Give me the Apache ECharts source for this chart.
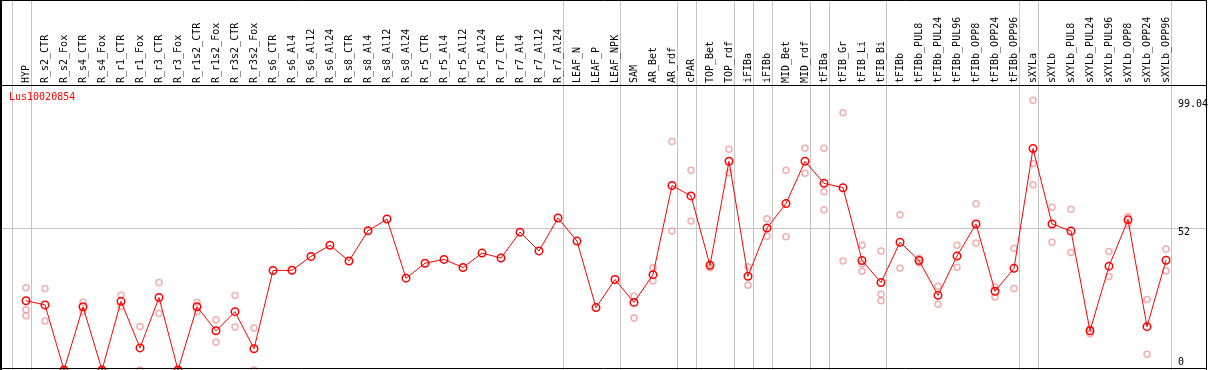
<!DOCTYPE html>
<html><head><meta charset="utf-8">
<script src="https://cdn.jsdelivr.net/npm/echarts@6/dist/echarts.min.js"></script>
<style>html,body{margin:0;padding:0;background:#fff;overflow:hidden}#c{width:1209px;height:370px}</style>
</head><body><div id="c"></div>
<script>
const categories = ['HYP','R_s2_CTR','R_s2_Fox','R_s4_CTR','R_s4_Fox','R_r1_CTR','R_r1_Fox','R_r3_CTR','R_r3_Fox',
 'R_r1s2_CTR','R_r1s2_Fox','R_r3s2_CTR','R_r3s2_Fox','R_s6_CTR','R_s6_Al4','R_s6_Al12','R_s6_Al24',
 'R_s8_CTR','R_s8_Al4','R_s8_Al12','R_s8_Al24','R_r5_CTR','R_r5_Al4','R_r5_Al12','R_r5_Al24',
 'R_r7_CTR','R_r7_Al4','R_r7_Al12','R_r7_Al24','LEAF_N','LEAF_P','LEAF_NPK','SAM','AR_Bet','AR_rdf',
 'cPAR','TOP_Bet','TOP_rdf','iFIBa','iFIBb','MID_Bet','MID_rdf','tFIBa','tFIB_Gr','tFIB_Li','tFIB_Bi',
 'tFIBb','tFIBb_PUL8','tFIBb_PUL24','tFIBb_PUL96','tFIBb_OPP8','tFIBb_OPP24','tFIBb_OPP96',
 'sXYLa','sXYLb','sXYLb_PUL8','sXYLb_PUL24','sXYLb_PUL96','sXYLb_OPP8','sXYLb_OPP24','sXYLb_OPP96'];

const means = [25.4,23.9,0,23.2,0,25.2,8.1,26.6,0,
 23.2,14.4,21.4,7.8,36.5,36.6,41.7,45.8,
 40.0,51.1,55.4,33.7,39.2,40.6,37.6,42.9,
 41.1,50.6,43.7,55.8,47.3,22.9,33.2,24.8,35.0,67.7,
 63.9,38.4,76.6,34.4,52.1,61.1,76.6,68.5,66.9,40.2,32.1,
 46.9,40.2,27.4,41.8,53.6,28.9,37.3,
 81.3,53.6,51.0,14.4,38.1,55.1,15.9,40.3];

const replicates = [[30.2,22.1,19.9],[29.9,18.0],[0,0],[24.9,21.5],[0,0],[27.4,23.3],[16.0,0],[32.1,20.7],[0,0],
 [24.9,21.5],[18.4,10.2],[27.3,15.8],[15.4,0],[],[],[],[],
 [],[],[],[],[],[],[],[],
 [],[],[],[],[],[],[],[27.1,19.1],[37.5,32.8],[83.9,51.0],
 [73.3,54.7],[37.5,38.9],[81.0,72.4],[37.9,31.1],[55.5,49.1],[73.3,48.9],[81.4,72.2],[81.4,65.4,58.8],[94.4,40.0],[45.8,39.0,36.2],[43.7,27.8,25.4],
 [57.0,37.3],[41.0,39.3],[30.7,24.1],[45.8,37.7],[61.0,46.6],[30.5,26.8],[44.7,29.9],
 [99.04,75.8,68.0],[59.7,46.9],[59.0,43.1],[15.2,13.3],[43.5,34.3],[56.3,53.6],[25.9,5.8],[44.4,36.3]];

// index of the last category of each group (separator drawn right after it)
const groupEnds = [-1,0,28,31,34,35,37,38,39,41,42,45,52,53,60];
const yTickLabels = [99.04,52,0];
const gridValue = 52;
const geneTitle = 'Lus10020854';

const chart = echarts.init(document.getElementById('c'), null, {renderer:'canvas'});
const repData = [];
replicates.forEach((arr,i)=>arr.forEach(v=>repData.push([i,v])));
const mono = 'DejaVu Sans Mono';

chart.setOption({
  animation:false,
  grid:{left:16.5,right:33.5,top:85,bottom:0,containLabel:false},
  xAxis:[{type:'category',data:categories,position:'top',boundaryGap:true,
    axisLine:{show:false},axisTick:{show:false},splitLine:{show:false},
    axisLabel:{rotate:90,interval:0,fontFamily:mono,fontSize:10,color:'#000',margin:2,hideOverlap:false}},
    {type:'value',min:-0.5,max:categories.length-0.5,show:false}],
  yAxis:{type:'value',min:0,max:104.6,show:false},
  series:[
    {type:'scatter',data:repData,symbol:'circle',symbolSize:6,z:3,
     itemStyle:{color:'rgba(0,0,0,0)',borderColor:'#ef9a9a',borderWidth:1.5}},
    {type:'line',data:means,symbol:'circle',symbolSize:7.5,z:4,
     lineStyle:{color:'#ff0000',width:1},
     itemStyle:{color:'rgba(0,0,0,0)',borderColor:'#ff0000',borderWidth:1.5}}
  ]
});

const W = 1209, H = 370;
const g = [];
const gray = '#c4c4c4';
groupEnds.forEach(i=>{
  const x = Math.round(chart.convertToPixel({xAxisIndex:1}, i+0.24))+0.5;
  g.push({type:'line',z:0,shape:{x1:x,y1:0,x2:x,y2:H},style:{stroke:gray,lineWidth:1}});
});
const yg = Math.round(chart.convertToPixel({yAxisIndex:0}, gridValue))+0.5;
g.push({type:'line',z:0,shape:{x1:0,y1:yg,x2:1207,y2:yg},style:{stroke:gray,lineWidth:1}});
// frame
g.push({type:'line',z:5,shape:{x1:0,y1:0.5,x2:1207,y2:0.5},style:{stroke:'#000',lineWidth:1}});
g.push({type:'line',z:5,shape:{x1:1,y1:0,x2:1,y2:H},style:{stroke:'#000',lineWidth:2}});
g.push({type:'line',z:5,shape:{x1:1206.5,y1:0,x2:1206.5,y2:H},style:{stroke:'#000',lineWidth:1}});
g.push({type:'line',z:5,shape:{x1:0,y1:368.5,x2:1207,y2:368.5},style:{stroke:'#000',lineWidth:1}});
g.push({type:'line',z:5,shape:{x1:0,y1:85.5,x2:1207,y2:85.5},style:{stroke:'#000',lineWidth:1}});
// right value labels
yTickLabels.forEach(v=>{
  const y = chart.convertToPixel({yAxisIndex:0}, v);
  const ty = v===0 ? y-8 : y+4;
  g.push({type:'text',z:6,x:1178,y:ty,style:{text:String(v),fill:'#000',font:'10px '+mono,verticalAlign:'middle',align:'left'}});
});
g.push({type:'text',z:6,x:9,y:97,style:{text:geneTitle,fill:'#ff0000',font:'10px '+mono,verticalAlign:'middle',align:'left'}});
chart.setOption({graphic:g});
</script></body></html>
